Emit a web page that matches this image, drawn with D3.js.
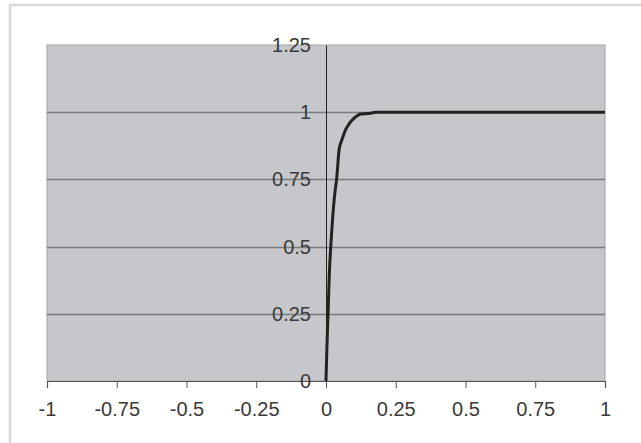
<!DOCTYPE html>
<html>
<head>
<meta charset="utf-8">
<script src="https://cdn.jsdelivr.net/npm/d3@7"></script>
<style>
  html, body { margin: 0; padding: 0; background: #fff; }
  svg { display: block; }
  text { font-family: "Liberation Sans", Arial, sans-serif; }
</style>
</head>
<body>
<script>
// Data
const xValues = [0, 0.002, 0.004, 0.008, 0.012, 0.017, 0.022, 0.028, 0.033, 0.038, 0.047, 0.058, 0.07, 0.085, 0.1, 0.112, 0.124, 0.147, 0.16, 0.178, 0.25, 0.5, 0.75, 1];
const yValues = [0, 0.08, 0.15, 0.27, 0.4, 0.5, 0.58, 0.66, 0.71, 0.75, 0.86, 0.9, 0.934, 0.96, 0.977, 0.987, 0.993, 0.995, 0.996, 1.0, 1, 1, 1, 1];
const xTicks = [-1, -0.75, -0.5, -0.25, 0, 0.25, 0.5, 0.75, 1];
const yTicks = [0, 0.25, 0.5, 0.75, 1, 1.25];
const xTickLabels = ["-1", "-0.75", "-0.5", "-0.25", "0", "0.25", "0.5", "0.75", "1"];
const yTickLabels = ["0", "0.25", "0.5", "0.75", "1", "1.25"];

const W = 641, H = 443;
const mLeft = 47, mRight = 605, mTop = 45, mBottom = 381;

const svg = d3.select("body").append("svg").attr("width", W).attr("height", H);

// outer frame
svg.append("rect").attr("x", 10).attr("y", 5).attr("width", W + 10).attr("height", H + 10)
  .attr("fill", "#fff").attr("stroke", "#d9d9d9").attr("stroke-width", 2.5);

const x = d3.scaleLinear().domain([-1, 1]).range([mLeft, mRight]);
const y = d3.scaleLinear().domain([0, 1.25]).range([mBottom, mTop]);

// plot area
svg.append("rect").attr("x", x(-1)).attr("y", y(1.25)).attr("width", x(1) - x(-1)).attr("height", y(0) - y(1.25))
  .attr("fill", "#c5c7ca").attr("stroke", "#a3a5a8").attr("stroke-width", 1);

// gridlines
svg.append("g").selectAll("line").data(yTicks.filter(d => d > 0 && d < 1.25)).join("line")
  .attr("x1", x(-1)).attr("x2", x(1))
  .attr("y1", d => Math.round(y(d)) + 0.5).attr("y2", d => Math.round(y(d)) + 0.5)
  .attr("stroke", "#7a7b7d").attr("stroke-width", 1.3);

// x axis
const xAxis = d3.axisBottom(x).tickValues(xTicks).tickSize(7).tickPadding(14)
  .tickFormat((d, i) => xTickLabels[i]);
const gx = svg.append("g").attr("transform", `translate(0,${mBottom})`).call(xAxis);
gx.select(".domain").attr("stroke", "#555").attr("stroke-width", 1.2);
gx.selectAll(".tick line").attr("stroke", "#555");
gx.selectAll(".tick text").attr("font-size", 20).attr("fill", "#3a3a3a")
  .attr("font-family", "Liberation Sans, Arial, sans-serif");

// y axis at x = 0
const yAxis = d3.axisLeft(y).tickValues(yTicks).tickSize(0).tickPadding(15)
  .tickFormat((d, i) => yTickLabels[i]);
const gy = svg.append("g").attr("transform", `translate(${x(0)},0)`).call(yAxis);
gy.select(".domain").attr("stroke", "#222").attr("stroke-width", 1);
gy.selectAll(".tick text").attr("font-size", 20).attr("fill", "#3a3a3a")
  .attr("font-family", "Liberation Sans, Arial, sans-serif");

// curve
const pts = xValues.map((v, i) => [v, yValues[i]]);
svg.append("path").datum(pts)
  .attr("fill", "none").attr("stroke", "#222").attr("stroke-width", 3).attr("stroke-linejoin", "round")
  .attr("d", d3.line().x(d => x(d[0])).y(d => y(d[1])).curve(d3.curveMonotoneX));
</script>
</body>
</html>
